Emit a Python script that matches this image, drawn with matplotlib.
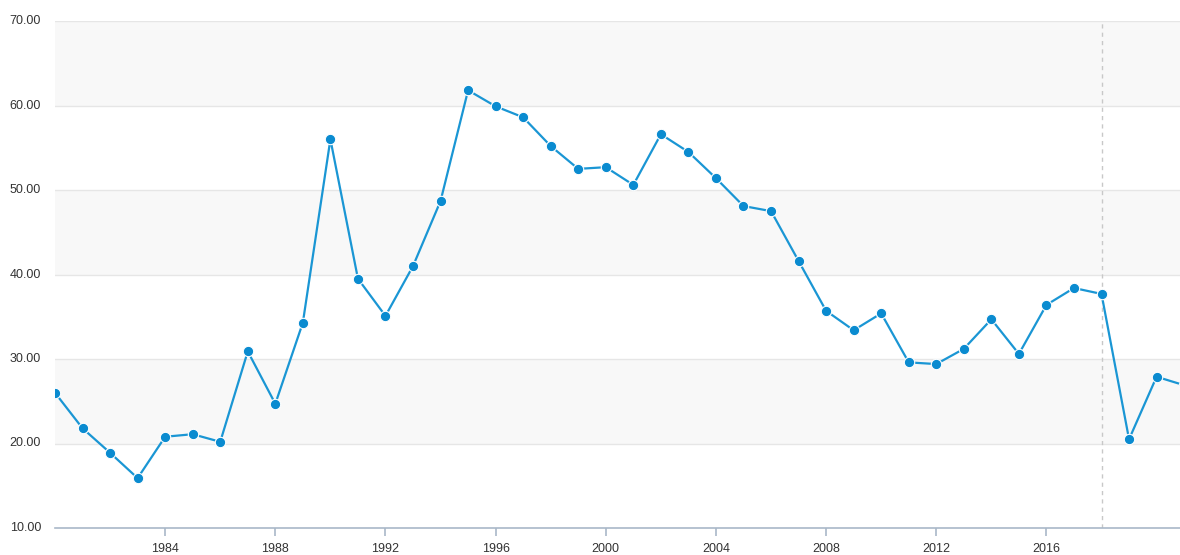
import matplotlib
matplotlib.use("Agg")
import matplotlib.pyplot as plt
from matplotlib.ticker import FormatStrFormatter

plt.rcParams["font.family"] = ["Liberation Sans", "DejaVu Sans"]

years = list(range(1980, 2022))
values = [26.0, 21.8, 18.9, 15.9, 20.8, 21.1, 20.2, 30.9, 24.7, 34.3,
          56.0, 39.5, 35.1, 41.0, 48.7, 61.8, 59.9, 58.6, 55.2, 52.5,
          52.7, 50.6, 56.6, 54.5, 51.4, 48.1, 47.5, 41.6, 35.7, 33.4,
          35.4, 29.6, 29.4, 31.2, 34.7, 30.6, 36.4, 38.4, 37.7, 20.5,
          27.9, 26.9]
x_ticks = [1984, 1988, 1992, 1996, 2000, 2004, 2008, 2012, 2016]
y_ticks = [10, 20, 30, 40, 50, 60, 70]
shaded_bands = [(20, 30), (40, 50), (60, 70)]
marker_year = 2018

W, H = 1180, 555
fig = plt.figure(figsize=(W / 100, H / 100), dpi=100)
ax = fig.add_axes([55 / W, 1 - 528 / H, (W - 55) / W, (528 - 21) / H])

for lo, hi in shaded_bands:
    ax.axhspan(lo, hi, color="#f8f8f8", zorder=0, lw=0)
for y in y_ticks[1:]:
    ax.axhline(y, color="#e6e6e6", lw=1, zorder=1)

ax.axvline(marker_year, color="#c8c8c8", lw=1, ls=(0, (3, 3)), zorder=2)

ax.plot(years, values, color="#1a96d4", lw=1.6, zorder=3,
        marker="o", ms=7.5, mfc="#0a8bd0", mec="white", mew=0.8)

ax.set_xlim(1980, 2020.85)
ax.set_ylim(10, 70)
ax.set_xticks(x_ticks)
ax.set_yticks(y_ticks)
ax.yaxis.set_major_formatter(FormatStrFormatter("%.2f"))

for side in ("top", "right", "left"):
    ax.spines[side].set_visible(False)
ax.spines["bottom"].set_color("#a9b8c8")
ax.spines["bottom"].set_linewidth(1.2)

ax.tick_params(axis="x", colors="#a9b8c8", length=6, width=1.2,
               labelcolor="#333333", labelsize=9, pad=5)
ax.tick_params(axis="y", length=0, labelcolor="#333333", labelsize=9, pad=10)
for lbl in ax.get_yticklabels():
    lbl.set_verticalalignment("center")

fig.savefig("out.png", dpi=100)
